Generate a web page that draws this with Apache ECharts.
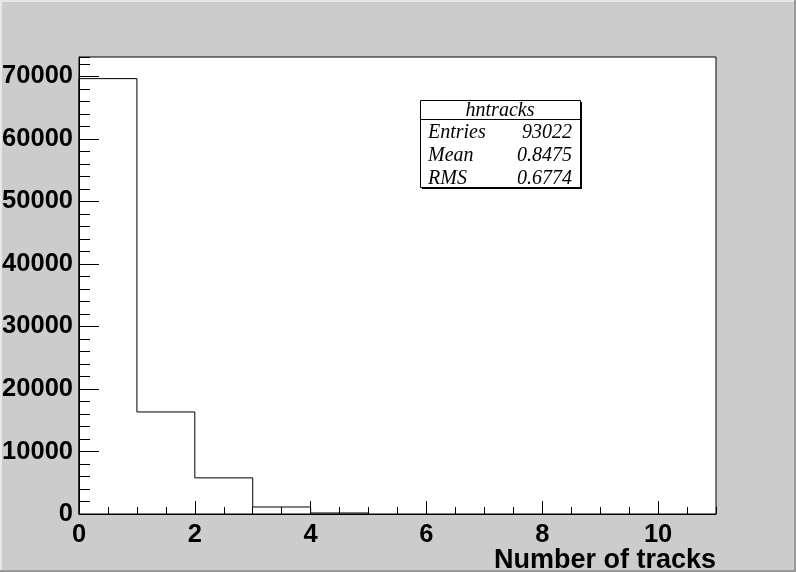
<!DOCTYPE html>
<html>
<head>
<meta charset="utf-8">
<script src="https://cdn.jsdelivr.net/npm/echarts@6/dist/echarts.min.js"></script>
<style>
html,body{margin:0;padding:0;background:#cccccc;}
#chart{width:796px;height:572px;}
</style>
</head>
<body>
<div id="chart"></div>
<script>
// Histogram "hntracks": bin lower edges and contents
var binEdges = [0, 1, 2, 3, 4, 5];
var binCounts = [69640, 16320, 5780, 1120, 160];
var yTicks = [0, 10000, 20000, 30000, 40000, 50000, 60000, 70000];
var xTicks = [0, 2, 4, 6, 8, 10];
var statsTitle = 'hntracks';
var statsLabels = ['Entries', 'Mean', 'RMS'];
var statsValues = ['93022', '0.8475', '0.6774'];
var xTitle = 'Number of tracks';

var xMin = 0, xMax = 11, yMin = 0, yMax = 73100;

// step outline points (left edge of each bin, closing at right edge)
var stepData = [[binEdges[0], 0]];
for (var i = 0; i < binCounts.length; i++) stepData.push([binEdges[i], binCounts[i]]);
stepData.push([binEdges[binEdges.length - 1], 0]);

var labelFont = {fontFamily: 'Liberation Sans, Arial, sans-serif', fontWeight: 'bold', fontSize: 25.5, color: '#000'};
var statFont = 'italic 20px "Liberation Serif", "Times New Roman", serif';

var chart = echarts.init(document.getElementById('chart'), null, {renderer: 'canvas'});

var statsGraphic = [];
var bx = 420, by = 100, bw = 160, bh = 87;
statsGraphic.push({type: 'rect', shape: {x: bx + 2, y: by + 2, width: bw, height: bh}, style: {fill: '#000'}, z: 100});
statsGraphic.push({type: 'rect', shape: {x: bx + 0.5, y: by + 0.5, width: bw, height: bh}, style: {fill: '#fff', stroke: '#000', lineWidth: 1}, z: 101});
statsGraphic.push({type: 'line', shape: {x1: bx, y1: by + 19.5, x2: bx + bw, y2: by + 19.5}, style: {stroke: '#000', lineWidth: 1}, z: 102});
statsGraphic.push({type: 'text', x: bx + bw / 2, y: by + 11, style: {text: statsTitle, textAlign: 'center', textVerticalAlign: 'middle', font: statFont, fill: '#000'}, z: 103});
for (var k = 0; k < statsLabels.length; k++) {
  var cy = by + 33 + k * 23;
  statsGraphic.push({type: 'text', x: bx + 8, y: cy, style: {text: statsLabels[k], textAlign: 'left', textVerticalAlign: 'middle', font: statFont, fill: '#000'}, z: 103});
  statsGraphic.push({type: 'text', x: bx + bw - 8, y: cy, style: {text: statsValues[k], textAlign: 'right', textVerticalAlign: 'middle', font: statFont, fill: '#000'}, z: 103});
}

var option = {
  backgroundColor: '#cccccc',
  animation: false,
  grid: {left: 79, right: 80, top: 57, bottom: 58, containLabel: false, outerBoundsMode: 'none', show: true, backgroundColor: '#ffffff', borderColor: '#000', borderWidth: 1},
  xAxis: [
    {
      type: 'value', min: xMin, max: xMax, interval: 2, position: 'bottom',
      axisLine: {show: true, onZero: false, lineStyle: {color: '#000', width: 1}},
      axisTick: {show: true, inside: true, length: 13, lineStyle: {color: '#000', width: 1}},
      minorTick: {show: false},
      splitLine: {show: false},
      axisLabel: Object.assign({margin: 8, showMaxLabel: false, formatter: function (v) { return xTicks.indexOf(v) >= 0 ? String(v) : ''; }}, labelFont)
    },
    {
      type: 'value', min: xMin, max: xMax, interval: 0.5, position: 'bottom',
      axisLine: {show: false, onZero: false},
      axisTick: {show: true, inside: true, length: 7, lineStyle: {color: '#000', width: 1}},
      splitLine: {show: false},
      axisLabel: {show: false}
    }
  ],
  yAxis: [
    {
      type: 'value', min: yMin, max: yMax, interval: 10000, position: 'left',
      axisLine: {show: true, onZero: false, lineStyle: {color: '#000', width: 1}},
      axisTick: {show: true, inside: true, length: 20, lineStyle: {color: '#000', width: 1}},
      splitLine: {show: false},
      axisLabel: Object.assign({margin: 6, showMaxLabel: false, formatter: function (v) { return yTicks.indexOf(v) >= 0 ? String(v) : ''; }}, labelFont)
    },
    {
      type: 'value', min: yMin, max: yMax, interval: 2000, position: 'left',
      axisLine: {show: false, onZero: false},
      axisTick: {show: true, inside: true, length: 11, lineStyle: {color: '#000', width: 1}},
      splitLine: {show: false},
      axisLabel: {show: false}
    }
  ],
  series: [
    {
      type: 'line', xAxisIndex: 0, yAxisIndex: 0, step: 'end', data: stepData,
      symbol: 'none', lineStyle: {color: '#000', width: 1}, z: 5, silent: true
    }
  ],
  graphic: [
    {type: 'rect', shape: {x: 0, y: 0, width: 796, height: 2}, style: {fill: '#e8e8e8'}, z: 0},
    {type: 'rect', shape: {x: 0, y: 0, width: 2, height: 572}, style: {fill: '#e8e8e8'}, z: 0},
    {type: 'rect', shape: {x: 794, y: 0, width: 2, height: 572}, style: {fill: '#999999'}, z: 0},
    {type: 'rect', shape: {x: 0, y: 570, width: 796, height: 2}, style: {fill: '#999999'}, z: 0},
    {type: 'text', x: 716, y: 574, style: {text: xTitle, textAlign: 'right', textVerticalAlign: 'bottom', font: 'bold 27px "Liberation Sans", Arial, sans-serif', fill: '#000'}, z: 10}
  ].concat(statsGraphic)
};
chart.setOption(option);
</script>
</body>
</html>
